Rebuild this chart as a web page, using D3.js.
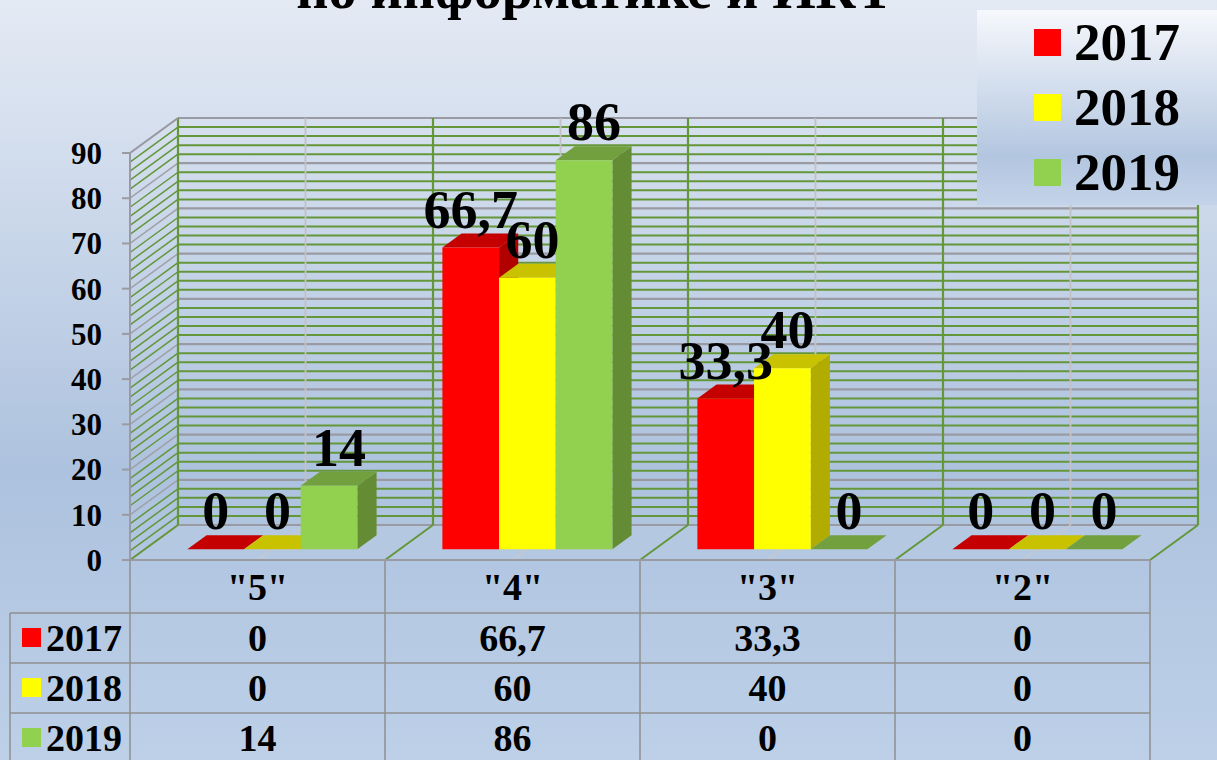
<!DOCTYPE html>
<html>
<head>
    <meta charset="utf-8">
    <title>по информатике и ИКТ</title>
    <style>
        body {
            margin: 0;
            overflow: hidden;
        }

        svg {
            display: block;
            font-family: "Liberation Serif", "Times New Roman", serif;
            font-weight: bold;
        }
    </style>
    <script src="https://d3js.org/d3.v7.min.js"></script>
</head>
<body>
<div id="chart"></div>
<script>
    // данные диаграммы
    const categories = ['"5"', '"4"', '"3"', '"2"'];
    const years = ["2017", "2018", "2019"];
    const values2017 = [0, 66.7, 33.3, 0];
    const values2018 = [0, 60, 40, 0];
    const values2019 = [14, 86, 0, 0];
    const yTicks = [0, 10, 20, 30, 40, 50, 60, 70, 80, 90];
    const titleText = "по информатике и ИКТ";

    const series = [
        {name: years[0], values: values2017, front: "#ff0000", top: "#c40000", side: "#b00000"},
        {name: years[1], values: values2018, front: "#ffff00", top: "#c9c200", side: "#b3ac00"},
        {name: years[2], values: values2019, front: "#92d050", top: "#72a03e", side: "#638c35"}
    ];

    const W = 1217, H = 760;
    const DX = 48, DY = -35;       // глубина 3D
    const D0 = 0.31, D1 = 0.71;    // передняя и задняя грань столбиков

    const fmt = v => String(v).replace(".", ",");

    const svg = d3.select("#chart").append("svg")
        .attr("width", W)
        .attr("height", H);

    const defs = svg.append("defs");
    const bg = defs.append("linearGradient").attr("id", "bg")
        .attr("x1", 0).attr("y1", 0).attr("x2", 0).attr("y2", 1);
    bg.append("stop").attr("offset", "0%").attr("stop-color", "#e4eaf4");
    bg.append("stop").attr("offset", "62%").attr("stop-color", "#adc2de");
    bg.append("stop").attr("offset", "100%").attr("stop-color", "#bdd0e8");

    const lg = defs.append("linearGradient").attr("id", "lg")
        .attr("x1", 0).attr("y1", 0).attr("x2", 0).attr("y2", 1);
    lg.append("stop").attr("offset", "0%").attr("stop-color", "#f6f8fc");
    lg.append("stop").attr("offset", "75%").attr("stop-color", "#b3c6e0");
    lg.append("stop").attr("offset", "100%").attr("stop-color", "#c3d3e9");

    svg.append("rect")
        .attr("width", W)
        .attr("height", H)
        .attr("fill", "url(#bg)");

    // шкалы
    const x = d3.scaleBand().domain(categories).range([130, 1150]);
    const xs = d3.scaleBand().domain(years).range([0, x.bandwidth()]).paddingOuter(0.75);
    const y = d3.scaleLinear().domain([0, 90]).range([560, 153]);

    const proj = (px, v, d) => [px + DX * d, y(v) + DY * d];
    const poly = pts => "M" + pts.map(p => p.join(",")).join("L") + "Z";

    const x0 = x.range()[0], x1 = x.range()[1];

    // пол
    svg.append("path")
        .attr("d", poly([proj(x0, 0, 0), proj(x1, 0, 0), proj(x1, 0, 1), proj(x0, 0, 1)]))
        .attr("fill", "#b5c8e1");

    // сетка: задняя стена и левая стена
    const gridVals = d3.range(0, 91, 2);
    const grid = svg.append("g");

    grid.selectAll("line.back")
        .data(gridVals)
        .join("line")
        .attr("class", "back")
        .attr("x1", x0 + DX).attr("x2", x1 + DX)
        .attr("y1", d => y(d) + DY).attr("y2", d => y(d) + DY)
        .attr("stroke", d => d % 10 === 0 ? "#9a9aa2" : "#64963a")
        .attr("stroke-width", d => d % 10 === 0 ? 2.2 : 2);

    grid.selectAll("line.side")
        .data(gridVals)
        .join("line")
        .attr("class", "side")
        .attr("x1", x0).attr("x2", x0 + DX)
        .attr("y1", d => y(d)).attr("y2", d => y(d) + DY)
        .attr("stroke", d => d % 10 === 0 ? "#a0a0a8" : "#64963a")
        .attr("stroke-width", 1.5);

    // вертикальные линии на задней стене
    const bounds = categories.map(c => x(c)).concat([x1]);
    const centers = categories.map(c => x(c) + x.bandwidth() / 2);

    grid.selectAll("line.vc")
        .data(centers)
        .join("line")
        .attr("class", "vc")
        .attr("x1", d => d + DX).attr("x2", d => d + DX)
        .attr("y1", y(0) + DY).attr("y2", y(90) + DY)
        .attr("stroke", "#c2c2c6")
        .attr("stroke-width", 1.8);

    grid.selectAll("line.vb")
        .data(bounds)
        .join("line")
        .attr("class", "vb")
        .attr("x1", d => d + DX).attr("x2", d => d + DX)
        .attr("y1", y(0) + DY).attr("y2", y(90) + DY)
        .attr("stroke", "#64963a")
        .attr("stroke-width", 2.2);

    // линии на полу
    grid.selectAll("line.fc")
        .data(centers)
        .join("line")
        .attr("class", "fc")
        .attr("x1", d => d).attr("x2", d => d + DX)
        .attr("y1", y(0)).attr("y2", y(0) + DY)
        .attr("stroke", "#c8c8cc")
        .attr("stroke-width", 1.4);

    grid.selectAll("line.fb")
        .data(bounds)
        .join("line")
        .attr("class", "fb")
        .attr("x1", d => d).attr("x2", d => d + DX)
        .attr("y1", y(0)).attr("y2", y(0) + DY)
        .attr("stroke", "#64963a")
        .attr("stroke-width", 2);

    // верхняя кромка левой стены
    grid.append("line")
        .attr("x1", x0).attr("x2", x0 + DX)
        .attr("y1", y(90)).attr("y2", y(90) + DY)
        .attr("stroke", "#9a9aa2").attr("stroke-width", 2);

    // ось Y
    const axis = svg.append("g");
    axis.append("line")
        .attr("x1", x0).attr("x2", x0)
        .attr("y1", y(0)).attr("y2", y(90))
        .attr("stroke", "#9a9aa2").attr("stroke-width", 2);
    axis.selectAll("line.tick")
        .data(yTicks)
        .join("line")
        .attr("class", "tick")
        .attr("x1", x0 - 8).attr("x2", x0)
        .attr("y1", d => y(d)).attr("y2", d => y(d))
        .attr("stroke", "#9a9aa2").attr("stroke-width", 2);
    axis.selectAll("text")
        .data(yTicks)
        .join("text")
        .attr("x", 102)
        .attr("y", d => y(d))
        .attr("dy", "0.35em")
        .attr("text-anchor", "end")
        .attr("font-size", 31)
        .text(d => d);

    // столбики
    const bars = svg.append("g");
    categories.forEach((c, ci) => {
        series.forEach(s => {
            const v = s.values[ci];
            const xl = x(c) + xs(s.name);
            const xr = xl + xs.bandwidth();
            const g = bars.append("g");
            g.append("path")
                .attr("d", poly([proj(xr, 0, D0), proj(xr, v, D0), proj(xr, v, D1), proj(xr, 0, D1)]))
                .attr("fill", s.side);
            g.append("path")
                .attr("d", poly([proj(xl, v, D0), proj(xr, v, D0), proj(xr, v, D1), proj(xl, v, D1)]))
                .attr("fill", s.top);
            g.append("path")
                .attr("d", poly([proj(xl, 0, D0), proj(xr, 0, D0), proj(xr, v, D0), proj(xl, v, D0)]))
                .attr("fill", s.front);
        });
    });

    // подписи значений
    const labels = svg.append("g")
        .attr("font-size", 54)
        .attr("text-anchor", "middle");
    categories.forEach((c, ci) => {
        series.forEach((s, si) => {
            const v = s.values[ci];
            const cx = x(c) + xs(s.name) + xs.bandwidth() / 2 + DX * D0 + si * 5;
            labels.append("text")
                .attr("x", cx)
                .attr("y", y(v) + DY * D1 - 6)
                .text(fmt(v));
        });
    });

    // таблица данных
    const tbl = svg.append("g");
    const headTop = 560, headBottom = 613, rowH = 50;
    const tblLeft = 10;
    const lineColor = "#8f8f8f";

    bounds.forEach(b => {
        tbl.append("line")
            .attr("x1", b).attr("x2", b)
            .attr("y1", headTop).attr("y2", H)
            .attr("stroke", lineColor).attr("stroke-width", 1.5);
    });
    tbl.append("line")
        .attr("x1", tblLeft).attr("x2", tblLeft)
        .attr("y1", headBottom).attr("y2", H)
        .attr("stroke", lineColor).attr("stroke-width", 1.5);
    [0, 1, 2].forEach(i => {
        tbl.append("line")
            .attr("x1", tblLeft).attr("x2", x1)
            .attr("y1", headBottom + i * rowH).attr("y2", headBottom + i * rowH)
            .attr("stroke", lineColor).attr("stroke-width", 1.5);
    });
    tbl.append("line")
        .attr("x1", x0).attr("x2", x1)
        .attr("y1", headTop).attr("y2", headTop)
        .attr("stroke", "#9a9aa2").attr("stroke-width", 2);

    tbl.selectAll("text.head")
        .data(categories)
        .join("text")
        .attr("class", "head")
        .attr("x", d => x(d) + x.bandwidth() / 2)
        .attr("y", (headTop + headBottom) / 2)
        .attr("dy", "0.35em")
        .attr("text-anchor", "middle")
        .attr("font-size", 38)
        .text(d => d);

    series.forEach((s, si) => {
        const cy = headBottom + si * rowH + rowH / 2;
        tbl.append("rect")
            .attr("x", 22).attr("y", cy - 10)
            .attr("width", 19).attr("height", 19)
            .attr("fill", s.front);
        tbl.append("text")
            .attr("x", 46).attr("y", cy)
            .attr("dy", "0.35em")
            .attr("font-size", 38)
            .text(s.name);
        tbl.selectAll(null)
            .data(s.values)
            .join("text")
            .attr("x", (d, i) => x(categories[i]) + x.bandwidth() / 2)
            .attr("y", cy)
            .attr("dy", "0.35em")
            .attr("text-anchor", "middle")
            .attr("font-size", 38)
            .text(d => fmt(d));
    });

    // легенда
    const legend = svg.append("g");
    legend.append("rect")
        .attr("x", 977).attr("y", 10)
        .attr("width", 245).attr("height", 195)
        .attr("fill", "url(#lg)");
    series.forEach((s, i) => {
        legend.append("rect")
            .attr("x", 1034).attr("y", 29 + i * 65)
            .attr("width", 27).attr("height", 27)
            .attr("fill", s.front);
        legend.append("text")
            .attr("x", 1074).attr("y", 60 + i * 65)
            .attr("font-size", 53)
            .text(s.name);
    });

    // заголовок (верхняя часть обрезана)
    svg.append("text")
        .attr("x", 595).attr("y", 8)
        .attr("text-anchor", "middle")
        .attr("font-size", 56)
        .text(titleText);
</script>
</body>
</html>
